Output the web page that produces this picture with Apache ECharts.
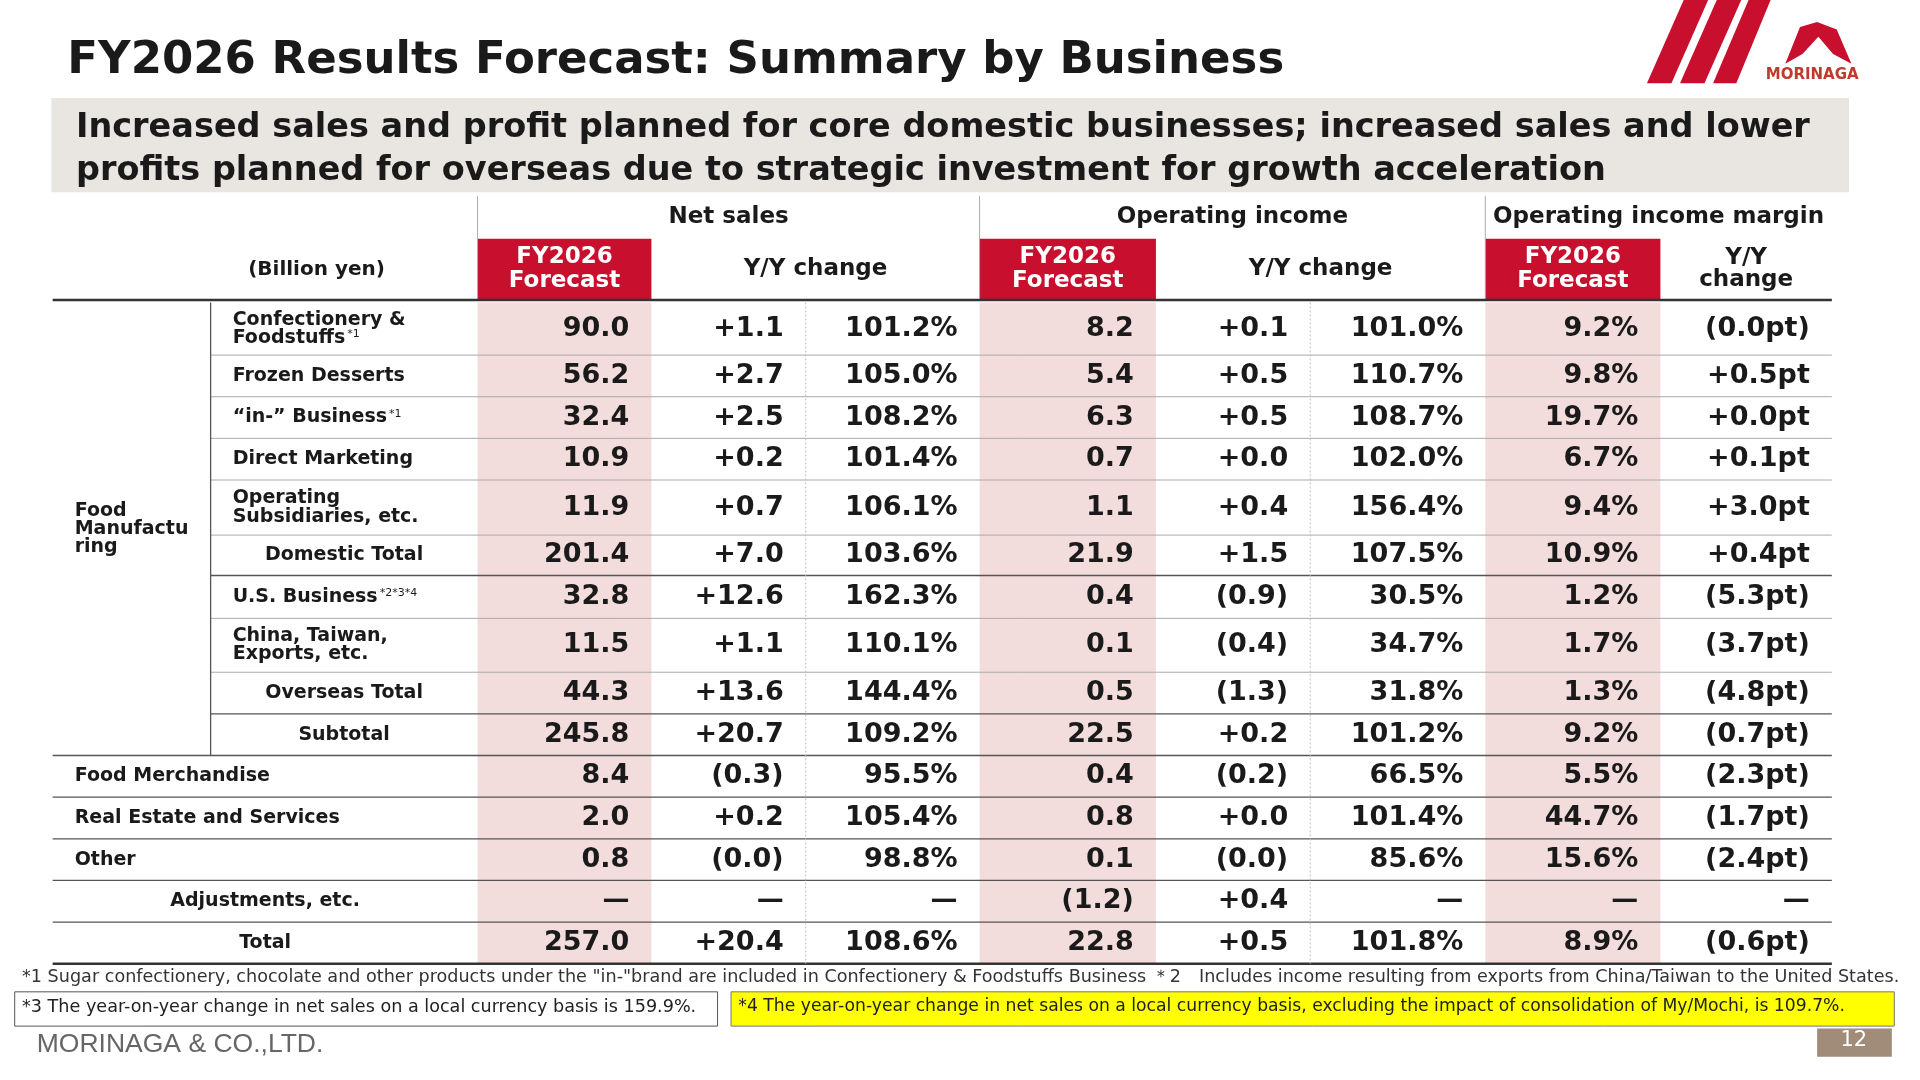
<!DOCTYPE html>
<html>
<head>
<meta charset="utf-8">
<script src="https://cdn.jsdelivr.net/npm/echarts@6/dist/echarts.min.js"></script>
<style>html,body{margin:0;padding:0;background:#fff}#main{width:1920px;height:1080px}</style>
</head>
<body>
<div id="main"></div>
<script>
// 数据
var rowLabels = ['Confectionery &\nFoodstuffs', 'Frozen Desserts', '“in-” Business', 'Direct Marketing',
    'Operating\nSubsidiaries, etc.', 'Domestic Total', 'U.S. Business', 'China, Taiwan,\nExports, etc.',
    'Overseas Total', 'Subtotal', 'Food Merchandise', 'Real Estate and Services', 'Other',
    'Adjustments, etc.', 'Total'];
var rowSup = ['*1', '', '*1', '', '', '', '*2*3*4', '', '', '', '', '', '', '', ''];
var netSales = ['90.0', '56.2', '32.4', '10.9', '11.9', '201.4', '32.8', '11.5', '44.3', '245.8', '8.4', '2.0', '0.8', '—', '257.0'];
var nsDiff = ['+1.1', '+2.7', '+2.5', '+0.2', '+0.7', '+7.0', '+12.6', '+1.1', '+13.6', '+20.7', '(0.3)', '+0.2', '(0.0)', '—', '+20.4'];
var nsPct = ['101.2%', '105.0%', '108.2%', '101.4%', '106.1%', '103.6%', '162.3%', '110.1%', '144.4%', '109.2%', '95.5%', '105.4%', '98.8%', '—', '108.6%'];
var opIncome = ['8.2', '5.4', '6.3', '0.7', '1.1', '21.9', '0.4', '0.1', '0.5', '22.5', '0.4', '0.8', '0.1', '(1.2)', '22.8'];
var oiDiff = ['+0.1', '+0.5', '+0.5', '+0.0', '+0.4', '+1.5', '(0.9)', '(0.4)', '(1.3)', '+0.2', '(0.2)', '+0.0', '(0.0)', '+0.4', '+0.5'];
var oiPct = ['101.0%', '110.7%', '108.7%', '102.0%', '156.4%', '107.5%', '30.5%', '34.7%', '31.8%', '101.2%', '66.5%', '101.4%', '85.6%', '—', '101.8%'];
var margin = ['9.2%', '9.8%', '19.7%', '6.7%', '9.4%', '10.9%', '1.2%', '1.7%', '1.3%', '9.2%', '5.5%', '44.7%', '15.6%', '—', '8.9%'];
var marginDiff = ['(0.0pt)', '+0.5pt', '+0.0pt', '+0.1pt', '+3.0pt', '+0.4pt', '(5.3pt)', '(3.7pt)', '(4.8pt)', '(0.7pt)', '(2.3pt)', '(1.7pt)', '(2.4pt)', '—', '(0.6pt)'];

// 布局
var S = 1920 / 1568;
var colEdges = [0, 129, 347, 489, 615, 757, 901, 1027, 1170, 1313, 1453];
var rowEdges = [87, 130, 164, 198, 232, 277, 310, 345, 389, 423, 457, 491, 525, 559, 593, 627];
var labelMode = ['L1', 'L1', 'L1', 'L1', 'L1', 'C1', 'L1', 'L1', 'C1', 'C1', 'L0', 'L0', 'L0', 'C0', 'C0'];
var FONT = '"DejaVu Sans", Verdana, sans-serif';
var RED = '#c8102e', PINK = '#f3dcdc', INK = '#1a1a1a';

var cols = [netSales, nsDiff, nsPct, opIncome, oiDiff, oiPct, margin, marginDiff];
var cells = [];
function cell(c0, c1, y0, y1, kind, text) {
    cells.push({x0: colEdges[c0], x1: colEdges[c1], y0: y0, y1: y1, kind: kind, text: text});
}
// 粉色底
[2, 5, 8].forEach(function (c) { cell(c, c + 1, rowEdges[0], rowEdges[15], 'pink', ''); });
// 表头
cell(2, 5, 0, 35, 'head', 'Net sales');
cell(5, 8, 0, 35, 'head', 'Operating income');
cell(8, 10, 0, 35, 'head', 'Operating income margin');
cell(0, 2, 35, 85, 'headSmall', '(Billion yen)');
cell(2, 3, 35, 85, 'red', 'FY2026\nForecast');
cell(3, 5, 35, 85, 'head', 'Y/Y change');
cell(5, 6, 35, 85, 'red', 'FY2026\nForecast');
cell(6, 8, 35, 85, 'head', 'Y/Y change');
cell(8, 9, 35, 85, 'red', 'FY2026\nForecast');
cell(9, 10, 35, 85, 'head', 'Y/Y\nchange');
cell(0, 1, rowEdges[0], rowEdges[10], 'group', 'Food\nManufactu\nring');
for (var i = 0; i < rowLabels.length; i++) {
    var m = labelMode[i];
    var c0 = m.charAt(1) === '1' ? 1 : 0;
    var lbl = rowLabels[i].split('\n').map(function (s) { return '{a|' + s + '}'; }).join('\n');
    if (rowSup[i]) lbl += '{s|' + rowSup[i] + '}';
    cell(c0, 2, rowEdges[i], rowEdges[i + 1], m.charAt(0) === 'L' ? 'labelL' : 'labelC', lbl);
    for (var j = 0; j < cols.length; j++) {
        cell(j + 2, j + 3, rowEdges[i], rowEdges[i + 1], 'num', cols[j][i]);
    }
}

// 线
var lines = [];
function ln(x0, y0, x1, y1, kind) { lines.push([x0, y0, x1, y1, kind]); }
[347, 757, 1170].forEach(function (x) { ln(x, 0, x, 85, 0); });
ln(0, 85, 1453, 85, 2);
[130, 164, 198, 232, 277, 345, 389].forEach(function (y) { ln(129, y, 1453, y, 0); });
[310, 423].forEach(function (y) { ln(129, y, 1453, y, 1); });
[457, 491, 525, 559, 593].forEach(function (y) { ln(0, y, 1453, y, 1); });
ln(0, 627, 1453, 627, 2);
ln(129, 87, 129, 457, 1);
[615, 1027].forEach(function (x) { ln(x, 87, x, 627, 3); });

function renderCell(params, api) {
    var c = cells[params.dataIndex];
    var p0 = api.coord([c.x0, c.y0]), p1 = api.coord([c.x1, c.y1]);
    var w = p1[0] - p0[0], h = p1[1] - p0[1];
    var k = c.kind;
    if (k === 'pink') return {type: 'rect', shape: {x: p0[0], y: p0[1], width: w, height: h}, style: {fill: PINK}};
    var base = {fontFamily: FONT, fill: INK, fontWeight: 'bold', textVerticalAlign: 'middle', verticalAlign: 'middle'};
    var cy = p0[1] + h / 2, tx, align = 'center', size = 21;
    if (k === 'num') { tx = p1[0] - 18 * S; align = 'right'; size = 27; }
    else if (k === 'labelL' || k === 'group') { tx = p0[0] + 18 * S; align = 'left'; size = 19; }
    else if (k === 'labelC') { tx = p0[0] + w / 2; size = 19; }
    else if (k === 'headSmall') { tx = p0[0] + w / 2 + 42 * S; size = 20; }
    else { tx = p0[0] + w / 2; size = 23; }
    var st = Object.assign(base, {x: tx, y: cy, text: c.text, align: align, textAlign: align, fontSize: size, lineHeight: size * 0.95});
    if (k === 'labelL' || k === 'labelC') {
        st.rich = {a: {fontFamily: FONT, fontWeight: 'bold', fontSize: size, fill: INK, lineHeight: size * 0.95},
            s: {fontFamily: FONT, fontSize: 11, fill: INK, verticalAlign: 'top', padding: [0, 0, 10, 2]}};
    }
    if (k === 'red') {
        st.fill = '#fff'; st.lineHeight = 24;
        return {type: 'group', children: [
            {type: 'rect', shape: {x: p0[0], y: p0[1], width: w, height: h}, style: {fill: RED}},
            {type: 'text', style: st}]};
    }
    return {type: 'text', style: st};
}
function renderLine(params, api) {
    var a = api.coord([api.value(0), api.value(1)]), b = api.coord([api.value(2), api.value(3)]);
    var k = api.value(4);
    var style = [{stroke: '#aaa', lineWidth: 1}, {stroke: '#555', lineWidth: 1.3}, {stroke: '#333', lineWidth: 2.5},
        {stroke: '#bbb', lineWidth: 1, lineDash: [2, 2]}][k];
    return {type: 'line', shape: {x1: a[0], y1: a[1], x2: b[0], y2: b[1]}, style: style};
}

var gtext = function (x, y, text, size, extra) {
    return {type: 'text', left: x * S, top: y * S,
        style: Object.assign({text: text, font: 'bold ' + size + 'px ' + FONT, fill: INK}, extra || {})};
};
var small = function (sz) { return sz + 'px ' + FONT; };
var option = {
    animation: false,
    grid: {left: 43 * S, top: 160 * S, width: 1453 * S, height: 627 * S},
    xAxis: {type: 'value', min: 0, max: 1453, show: false},
    yAxis: {type: 'value', min: 0, max: 627, inverse: true, show: false},
    graphic: [
        {type: 'rect', shape: {x: 42 * S, y: 80 * S, width: 1468 * S, height: 77 * S}, style: {fill: '#e9e5e1'}},
        gtext(55, 32, 'FY2026 Results Forecast: Summary by Business', 45),
        gtext(62, 87, 'Increased sales and profit planned for core domestic businesses; increased sales and lower\nprofits planned for overseas due to strategic investment for growth acceleration', 33.5, {lineHeight: 43}),
        {type: 'polygon', shape: {points: [[1375 * S, 0], [1395 * S, 0], [1365 * S, 68 * S], [1345 * S, 68 * S]]}, style: {fill: RED}},
        {type: 'polygon', shape: {points: [[1402 * S, 0], [1422 * S, 0], [1392 * S, 68 * S], [1372 * S, 68 * S]]}, style: {fill: RED}},
        {type: 'polygon', shape: {points: [[1428 * S, 0], [1446 * S, 0], [1418 * S, 68 * S], [1399 * S, 68 * S]]}, style: {fill: RED}},
        {type: 'polygon', shape: {points: [[1458 * S, 52 * S], [1470 * S, 22 * S], [1484 * S, 18 * S], [1500 * S, 24 * S], [1512 * S, 52 * S], [1497 * S, 44 * S], [1485 * S, 30 * S], [1472 * S, 44 * S]]}, style: {fill: RED}},
        gtext(1442, 55, 'MORINAGA', 15, {fill: '#c0392b'}),
        gtext(18, 791, '*1 Sugar confectionery, chocolate and other products under the "in-"brand are included in Confectionery & Foodstuffs Business \uff0a2\u3000Includes income resulting from exports from China/Taiwan to the United States.', 17.6, {font: small(17.6), fill: '#333'}),
        {type: 'rect', shape: {x: 12 * S, y: 810 * S, width: 574 * S, height: 28 * S}, style: {fill: '#fff', stroke: '#555', lineWidth: 1}},
        gtext(18, 815, '*3 The year-on-year change in net sales on a local currency basis is 159.9%.', 17.6, {font: small(17.6), fill: '#222'}),
        {type: 'rect', shape: {x: 597 * S, y: 810 * S, width: 950 * S, height: 28 * S}, style: {fill: '#ffff00', stroke: '#777', lineWidth: 1}},
        gtext(603, 815, '*4 The year-on-year change in net sales on a local currency basis, excluding the impact of consolidation of My/Mochi, is 109.7%.', 17.2, {font: small(17.2), fill: '#222'}),
        gtext(30, 842, 'MORINAGA & CO.,LTD.', 26.5, {font: '26.5px "Liberation Sans", Arial, sans-serif', fill: '#666'}),
        {type: 'rect', shape: {x: 1484 * S, y: 840 * S, width: 61 * S, height: 23 * S}, style: {fill: '#a08c78'}},
        gtext(1503, 841, '12', 21, {font: small(21), fill: '#fff'})
    ],
    series: [
        {type: 'custom', renderItem: renderCell, encode: {x: [0, 2], y: [1, 3]},
            data: cells.map(function (c) { return [c.x0, c.y0, c.x1, c.y1]; })},
        {type: 'custom', renderItem: renderLine, encode: {x: [0, 2], y: [1, 3]}, data: lines}
    ]
};
echarts.init(document.getElementById('main')).setOption(option);
</script>
</body>
</html>
